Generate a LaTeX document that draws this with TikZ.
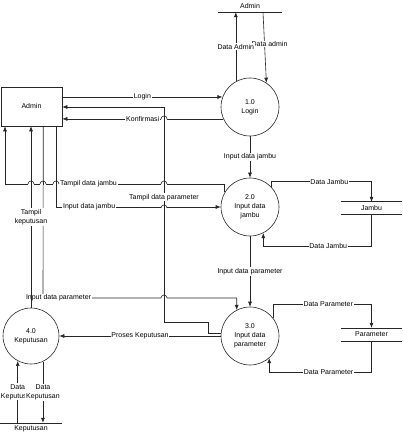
\documentclass[tikz,border=0pt]{standalone}
\usepackage{fontspec}
\setmainfont{Liberation Sans}
\usetikzlibrary{arrows.meta}
\tikzset{>={Latex[length=5pt,width=4pt]}}
\tikzstyle{simple}=[-,draw=black!85,line width=0.6pt]
\tikzstyle{flow}=[->,draw=black!85,line width=0.6pt]
\tikzstyle{process}=[circle,draw=black!85,line width=0.6pt,minimum size=58pt,inner sep=0pt,align=center]
\tikzstyle{entity}=[rectangle,draw=black!85,line width=0.6pt,minimum width=61pt,minimum height=39pt]
\tikzstyle{store}=[inner sep=0pt,minimum width=61pt,minimum height=12pt]
\tikzstyle{flowlabel}=[fill=white,inner sep=0.8pt,align=center]
\pgfdeclarelayer{edgelayer}
\pgfdeclarelayer{nodelayer}
\pgfsetlayers{edgelayer,nodelayer,main}

\begin{document}
\begin{tikzpicture}[x=1pt,y=-1pt,font=\fontsize{7pt}{9pt}\selectfont]
	\useasboundingbox (0,0) rectangle (402,435);
	\begin{pgfonlayer}{nodelayer}
		\node [style=entity] (admin) at (31.5,106.5) {Admin};
		\node [style=process] (p1) at (250,107) {1.0\\Login};
		\node [style=process] (p2) at (250,207) {2.0\\Input data\\jambu};
		\node [style=process] (p3) at (250,336) {3.0\\Input data\\parameter};
		\node [style=process, minimum size=56pt] (p4) at (31,336) {4.0\\Keputusan};
		\node [style=store, minimum width=64pt] (sAdmin) at (250,6) {Admin};
		\node [style=store] (sJambu) at (371.5,208) {Jambu};
		\node [style=store, minimum height=13pt] (sParam) at (371.5,334.5) {Parameter};
		\node [style=store, minimum width=62pt] (sKep) at (31,429) {Keputusan};
		\coordinate (tj) at (5,184);
		\coordinate (ip) at (43,298);
		\coordinate (tp1) at (208,322);
		\coordinate (tp2) at (164,322);
		\coordinate (tp3) at (164,107);
	\end{pgfonlayer}
	\begin{pgfonlayer}{edgelayer}
		% data stores
		\draw [style=simple] (sAdmin.south west) to (sAdmin.south east);
		\draw [style=simple] (sJambu.north west) to (sJambu.north east);
		\draw [style=simple] (sJambu.south west) to (sJambu.south east);
		\draw [style=simple] (sParam.north west) to (sParam.north east);
		\draw [style=simple] (sParam.south west) to (sParam.south east);
		\draw [style=simple] (sKep.north west) to (sKep.north east);

		% login
		\draw [style=flow] (admin.east |- p1.160) to node[flowlabel]{Login} (p1.160);
		\draw [style=flow] (p1.204) to node[flowlabel]{Konfirmasi} (admin.east |- p1.204);
		\draw [style=flow] ([xshift=13pt]sAdmin.south) to node[flowlabel, pos=0.45, xshift=5pt]{Data admin} (p1.56);
		\draw [style=flow] (p1.119) to node[flowlabel]{Data Admin} (p1.119 |- sAdmin.south);
		\draw [style=flow] (p1.south) to node[flowlabel]{Input data jambu} (p2.north);

		% jambu
		\draw [style=flow] (p2.150) |- node[flowlabel, pos=0.81]{Tampil data jambu} (tj) -- (tj |- admin.south);
		\draw [style=flow] ([xshift=-6pt]admin.south east) |- node[flowlabel, pos=0.6]{Input data jambu} (p2.west);
		\draw [style=flow] (p2.44) -- ++(0,-5) -| node[flowlabel, pos=0.29]{Data Jambu} (sJambu.north);
		\draw [style=flow] (sJambu.south) -- ++(0,32) -| node[flowlabel, pos=0.2]{Data Jambu} (p2.297);
		\draw [style=flow] (p2.south) to node[flowlabel]{Input data parameter} (p3.north);

		% parameter
		\draw [style=flow] ([xshift=-19pt]admin.south east) -- (ip) -| node[flowlabel, pos=0.04]{Input data parameter} (p3.117);
		\draw [style=flow] (p3.175) -| (tp1) -- (tp2) -- node[flowlabel, pos=0.58]{Tampil data parameter} (tp3) -- (admin.east |- tp3);
		\draw [style=flow] (p3.38) -- ++(0,-14) -| node[flowlabel, pos=0.28]{Data Parameter} (sParam.north);
		\draw [style=flow] (sParam.south) -- ++(0,31) -| node[flowlabel, pos=0.21]{Data Parameter} (p3.311);

		% keputusan
		\draw [style=flow] (p3.west) to node[flowlabel]{Proses Keputusan} (p4.east);
		\draw [style=flow] (p4.north) to node[flowlabel]{Tampil\\keputusan} (p4.north |- admin.south);
		\draw [style=flow] (p4.242 |- sKep.north) to node[flowlabel]{Data\\Keputusan} (p4.242);
		\draw [style=flow] (p4.295) to node[flowlabel]{Data\\Keputusan} (p4.295 |- sKep.north);
	\end{pgfonlayer}

	% line hops where flows cross
	\foreach \hx/\hy in {164/119, 31/184, 43/184, 56/184, 164/184, 164/208, 164/298} {
		\fill [white] (\hx-3,\hy-1) rectangle (\hx+3,\hy+1);
		\draw [style=simple] (\hx-3,\hy) arc (180:360:3);
		\draw [style=simple] (\hx,\hy-3) -- (\hx,\hy+1.5);
	}
\end{tikzpicture}
\end{document}
